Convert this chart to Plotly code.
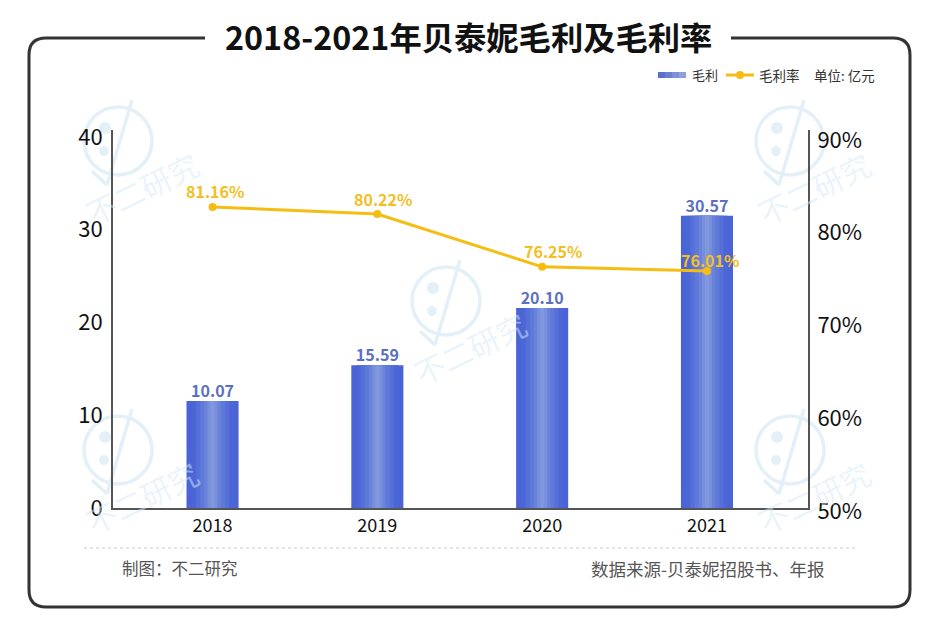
"""2018-2021 gross profit and gross margin, bars with a gradient and a line on a second axis."""

import plotly.graph_objects as go

W, H = 940, 644
PLOT_L, PLOT_R, PLOT_T, PLOT_B = 113, 808, 130, 508
FONT = "Noto Sans CJK SC"

years = ["2018", "2019", "2020", "2021"]
# the source drew its marks off-scale, so heights are read against the axes
# and the printed figures are kept apart as labels
profit_heights = [11.54, 15.4, 21.56, 31.5]
profit_labels = ["10.07", "15.59", "20.10", "30.57"]
margin_heights = [82.45, 81.7, 76.0, 75.55]
margin_labels = ["81.16%", "80.22%", "76.25%", "76.01%"]
left_ticks = [0, 10, 20, 30, 40]
right_ticks = [50, 60, 70, 80, 90]
right_tick_labels = ["50%", "60%", "70%", "80%", "90%"]

# (bar width, colour) from the outer edge to the middle, fakes the gradient
bar_layers = [
    (0.316, "#4a63d6"),
    (0.25, "#4d66d6"),
    (0.2, "#5570d8"),
    (0.15, "#5f79d9"),
    (0.1, "#6a83da"),
    (0.06, "#7890dc"),
    (0.025, "#8198de"),
]
margin_label_shift = [(2, 16), (6, 15), (11, 16), (3, 11)]
legend_steps = ["#5a70cc", "#6a80d2", "#7c90d9", "#8da0e0"]


def px(x):
    return (x - PLOT_L) / (PLOT_R - PLOT_L)


def py(y):
    return (PLOT_B - y) / (PLOT_B - PLOT_T)


def note(fig, x, y, text, size, color, anchor="center", bold=False, angle=0):
    fig.add_annotation(
        x=px(x), y=py(y), xref="paper", yref="paper", text=f"<b>{text}</b>" if bold else text,
        showarrow=False, xanchor=anchor, yanchor="middle", textangle=angle,
        font={"family": FONT, "size": size, "color": color},
    )


def paper_shape(fig, kind, x0, y0, x1, y1, **kw):
    fig.add_shape(type=kind, xref="paper", yref="paper", x0=px(x0), y0=py(y0), x1=px(x1), y1=py(y1), **kw)


def watermark(fig, cx, cy):
    """Pale balloon logo with the studio name running up to the right."""
    pale = {"color": "#e4f0f8", "width": 3.5}
    paper_shape(fig, "circle", cx - 34, cy - 34, cx + 34, cy + 34, line=pale, layer="below")
    paper_shape(fig, "circle", cx - 19, cy - 19, cx - 7, cy - 7, fillcolor="#e4f0f8", line={"width": 0}, layer="below")
    paper_shape(fig, "circle", cx - 19, cy + 5, cx - 9, cy + 15, fillcolor="#e4f0f8", line={"width": 0}, layer="below")
    paper_shape(fig, "line", cx + 14, cy - 41, cx - 11, cy + 44, line=pale, layer="below")
    paper_shape(fig, "line", cx - 26, cy + 30, cx - 11, cy + 44, line=pale, layer="below")
    note(fig, cx + 24, cy + 47, "不二研究", 30, "rgba(215,233,245,0.5)", angle=-26)


fig = go.Figure()

for i, (width, color) in enumerate(bar_layers):
    fig.add_bar(
        x=years, y=profit_heights, width=width, marker={"color": color, "line": {"width": 0}},
        showlegend=False, hoverinfo="skip" if i else None,
    )

fig.add_scatter(
    x=years, y=profit_heights, mode="text", text=profit_labels, textposition="top center",
    textfont={"family": FONT, "size": 16, "color": "#5b70c2", "weight": "bold"}, showlegend=False,
)
fig.add_scatter(
    x=years, y=margin_heights, yaxis="y2", mode="lines+markers",
    line={"color": "#f5bd12", "width": 3}, marker={"color": "#f5bd12", "size": 8}, showlegend=False,
)
for i, (value, label, (dx, dy)) in enumerate(zip(margin_heights, margin_labels, margin_label_shift)):
    fig.add_annotation(
        x=i, xref="x", y=value, yref="y2", text=f"<b>{label}</b>", showarrow=False,
        xshift=dx, yshift=dy, font={"family": FONT, "size": 16, "color": "#f4be1e"},
    )

# frame, open at the top where the title sits
frame = (
    f"M {px(205)} {py(38)} L {px(46)} {py(38)} Q {px(29)} {py(38)} {px(29)} {py(55)} "
    f"L {px(29)} {py(590)} Q {px(29)} {py(607)} {px(46)} {py(607)} "
    f"L {px(893)} {py(607)} Q {px(910)} {py(607)} {px(910)} {py(590)} "
    f"L {px(910)} {py(55)} Q {px(910)} {py(38)} {px(893)} {py(38)} L {px(731)} {py(38)}"
)
fig.add_shape(type="path", xref="paper", yref="paper", path=frame, line={"color": "#333333", "width": 3})
note(fig, 468, 36, "2018-2021年贝泰妮毛利及毛利率", 32.3, "#111111", bold=True)

for cx, cy in [(118, 141), (790, 141), (446, 301), (118, 450), (790, 450)]:
    watermark(fig, cx, cy)

# legend
for i, color in enumerate(legend_steps):
    paper_shape(fig, "rect", 658 + 7 * i, 72, 665 + 7 * i, 78, fillcolor=color, line={"width": 0})
paper_shape(fig, "line", 726, 75, 754, 75, line={"color": "#f5bd12", "width": 3})
paper_shape(fig, "circle", 736, 71, 744, 79, fillcolor="#f5bd12", line={"width": 0})
note(fig, 690, 75, "毛利", 13, "#333333", anchor="left")
note(fig, 757, 75, "毛利率", 13.5, "#333333", anchor="left")
note(fig, 812, 75, "单位: 亿元", 13.5, "#333333", anchor="left")

# footer
paper_shape(fig, "line", 84, 548, 856, 548, line={"color": "#c8c8c8", "width": 1, "dash": "dot"})
note(fig, 120, 568, "制图\uff1a不二研究", 16.5, "#555555", anchor="left")
note(fig, 827, 568, "数据来源-贝泰妮招股书、年报", 17.5, "#555555", anchor="right")

fig.update_layout(
    width=W, height=H, barmode="overlay", plot_bgcolor="white", paper_bgcolor="white",
    margin={"l": PLOT_L, "r": W - PLOT_R, "t": PLOT_T, "b": H - PLOT_B, "autoexpand": False},
    font={"family": FONT}, showlegend=False,
    xaxis={
        "type": "category", "range": [-0.604, 3.613], "showgrid": False, "ticks": "",
        "showline": True, "linecolor": "#555555", "linewidth": 2,
        "tickfont": {"size": 18, "color": "#111111"},
    },
    yaxis={
        "range": [0, 40.75], "tickvals": left_ticks, "showgrid": False, "zeroline": False,
        "showline": True, "linecolor": "#555555", "linewidth": 2, "ticks": "",
        "ticklabelstandoff": 4,
        "tickfont": {"size": 22, "color": "#111111"},
    },
    yaxis2={
        "range": [50, 90.75], "tickvals": right_ticks, "ticktext": right_tick_labels,
        "overlaying": "y", "side": "right", "showgrid": False, "zeroline": False,
        "showline": True, "linecolor": "#555555", "linewidth": 2, "ticks": "",
        "ticklabelstandoff": 3, "ticklabelshift": 3,
        "tickfont": {"size": 22, "color": "#111111"},
    },
)

fig.write_html("out.html", config={"displayModeBar": False}, post_script="document.body.style.margin='0';")
